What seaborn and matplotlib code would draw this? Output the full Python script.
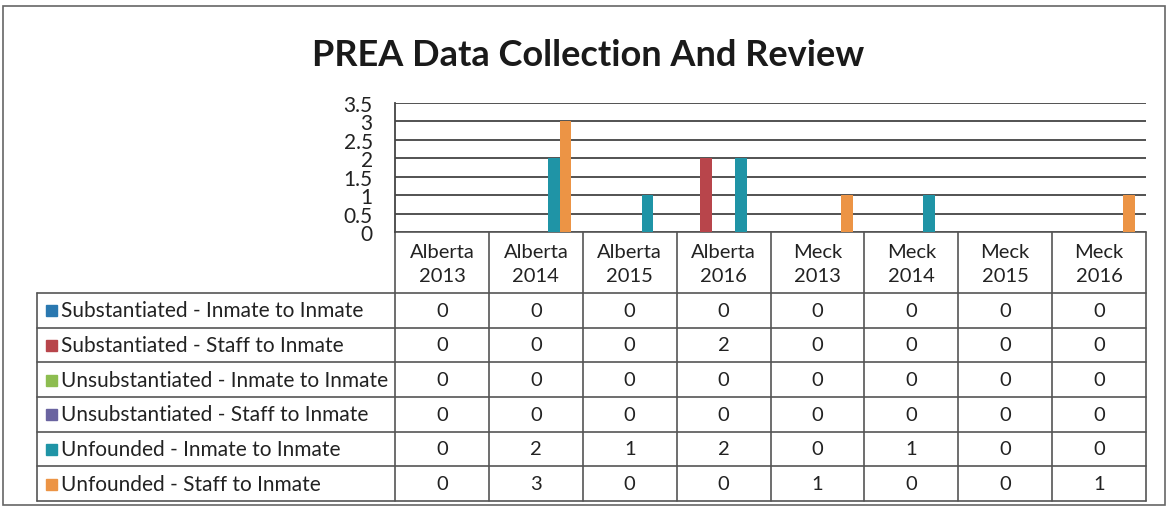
import pandas as pd
import seaborn as sns
import matplotlib.pyplot as plt
from matplotlib.patches import Rectangle

facilities = ["Alberta\n2013", "Alberta\n2014", "Alberta\n2015", "Alberta\n2016",
              "Meck\n2013", "Meck\n2014", "Meck\n2015", "Meck\n2016"]
categories = ["Substantiated - Inmate to Inmate",
              "Substantiated - Staff to Inmate",
              "Unsubstantiated - Inmate to Inmate",
              "Unsubstantiated - Staff to Inmate",
              "Unfounded - Inmate to Inmate",
              "Unfounded - Staff to Inmate"]
subst_inmate = [0, 0, 0, 0, 0, 0, 0, 0]
subst_staff = [0, 0, 0, 2, 0, 0, 0, 0]
unsubst_inmate = [0, 0, 0, 0, 0, 0, 0, 0]
unsubst_staff = [0, 0, 0, 0, 0, 0, 0, 0]
unfounded_inmate = [0, 2, 1, 2, 0, 1, 0, 0]
unfounded_staff = [0, 3, 0, 0, 1, 0, 0, 1]
colors = ["#2a78b0", "#b8454b", "#8dbd50", "#6a64a0", "#1f94a6", "#ec9445"]

series = [subst_inmate, subst_staff, unsubst_inmate, unsubst_staff,
          unfounded_inmate, unfounded_staff]
rows = []
for cat, vals in zip(categories, series):
    for fac, v in zip(facilities, vals):
        rows.append({"facility": fac, "category": cat, "count": v})
df = pd.DataFrame(rows)

sns.set_style("white")
plt.rcParams["font.family"] = ["Lato", "DejaVu Sans"]

W, H = 1172, 510
fig = plt.figure(figsize=(W / 100, H / 100), dpi=100)

# pixel layout
x0, x1 = 395, 1146
y_top, y_zero = 104, 233
leg_left = 37
header_bottom = 294
row_h = (502 - 294) / 6

ax = fig.add_axes([x0 / W, 1 - y_zero / H, (x1 - x0) / W, (y_zero - y_top) / H])
sns.barplot(data=df, x="facility", y="count", hue="category", hue_order=categories,
            palette=colors, width=0.76, gap=0, ax=ax, legend=False, saturation=1,
            linewidth=0)
ax.set_xlim(-0.5, len(facilities) - 0.5)
ax.set_ylim(0, 3.5)
ax.set_yticks([i * 0.5 for i in range(8)])
ax.set_yticklabels(["0", "0.5", "1", "1.5", "2", "2.5", "3", "3.5"], fontsize=15, color="#222")
ax.tick_params(axis="y", length=0, pad=16)
ax.set_xticks([])
ax.set_xlabel("")
ax.set_ylabel("")
ax.yaxis.grid(True, color="#444", linewidth=1.3)
ax.set_axisbelow(True)
for s in ["top", "right", "bottom"]:
    ax.spines[s].set_visible(False)
ax.spines["left"].set_color("#444")
ax.spines["left"].set_linewidth(1.3)

# overlay for table, title and frame
ov = fig.add_axes([0, 0, 1, 1], zorder=-1)
ov.set_xlim(0, W)
ov.set_ylim(H, 0)
ov.axis("off")
ov.add_patch(Rectangle((3, 7), 1162, 499, fill=False, edgecolor="#666", linewidth=1.2))
ov.text(588, 55, "PREA Data Collection And Review", ha="center", va="center",
        fontsize=26, fontweight="bold", color="#1a1a1a")

col_w = (x1 - x0) / len(facilities)
lc = "#555"
lw = 1.2
# header row
ov.plot([x0, x1], [y_zero, y_zero], color=lc, lw=lw)
for i in range(len(facilities) + 1):
    xc = x0 + i * col_w
    ov.plot([xc, xc], [y_zero, 502], color=lc, lw=lw)
ov.plot([leg_left, leg_left], [header_bottom, 502], color=lc, lw=lw)
for r in range(7):
    yr = header_bottom + r * row_h
    ov.plot([leg_left, x1], [yr, yr], color=lc, lw=lw)
for i, fac in enumerate(facilities):
    ov.text(x0 + (i + 0.5) * col_w, (y_zero + header_bottom) / 2 + 1, fac,
            ha="center", va="center", fontsize=14.5, color="#222", linespacing=1.45)
for r, (cat, vals, c) in enumerate(zip(categories, series, colors)):
    yc = header_bottom + (r + 0.5) * row_h
    ov.add_patch(Rectangle((46, yc - 5), 11, 11, color=c))
    ov.text(61, yc, cat, ha="left", va="center", fontsize=15, color="#222")
    for i, v in enumerate(vals):
        ov.text(x0 + (i + 0.5) * col_w, yc, str(v), ha="center", va="center",
                fontsize=14.5, color="#222")

fig.savefig("out.png", dpi=100)
